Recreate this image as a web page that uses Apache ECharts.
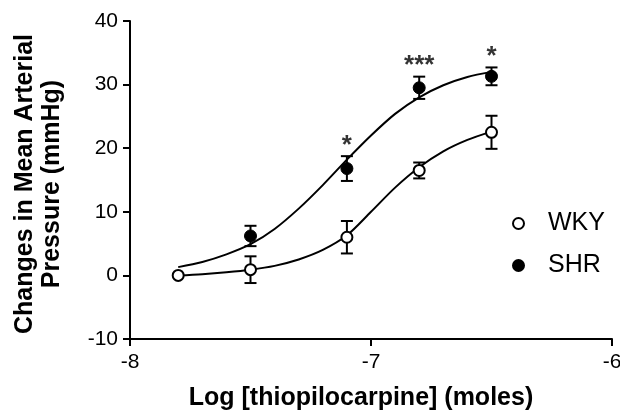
<!DOCTYPE html>
<html>
<head>
<meta charset="utf-8">
<script src="https://cdn.jsdelivr.net/npm/echarts@6/dist/echarts.min.js"></script>
<style>html,body{margin:0;padding:0;background:#fff}#c{width:620px;height:411px}</style>
</head>
<body>
<div id="c"></div>
<script>
// Data
var wkyX = [-7.8, -7.5, -7.1, -6.8, -6.5];
var wkyMean = [0.0, 0.9, 6.0, 16.5, 22.5];
var wkyErr = [0, 2.1, 2.55, 1.25, 2.6];

var shrX = [-7.5, -7.1, -6.8, -6.5];
var shrMean = [6.2, 16.8, 29.5, 31.3];
var shrErr = [1.6, 1.95, 1.75, 1.4];
var shrSig = ['', '*', '***', '*'];

// fitted curves
var wkyFitX = [-7.8, -7.7, -7.6, -7.5, -7.4, -7.3, -7.2, -7.1, -7.0, -6.9, -6.8, -6.7, -6.6, -6.5];
var wkyFitY = [0.0, 0.2, 0.5, 0.9, 1.5, 2.5, 4.0, 6.3, 10.0, 13.8, 17.0, 19.5, 21.3, 22.6];
var shrFitX = [-7.8, -7.7, -7.6, -7.5, -7.4, -7.3, -7.2, -7.1, -7.0, -6.9, -6.8, -6.7, -6.6, -6.5];
var shrFitY = [1.3, 2.1, 3.3, 4.9, 7.3, 10.5, 14.2, 18.2, 22.0, 25.4, 28.0, 29.9, 31.2, 32.0];

var xTicks = [-8, -7, -6];
var yTicks = [-10, 0, 10, 20, 30, 40];

var FONT = '"Liberation Sans", Arial, Helvetica, sans-serif';

function zip(a, b) { return a.map(function (v, i) { return [v, b[i]]; }); }
function errData(x, m, e) {
  var out = [];
  for (var i = 0; i < x.length; i++) { if (e[i] > 0) out.push([x[i], m[i] - e[i], m[i] + e[i]]); }
  return out;
}
function renderErr(params, api) {
  var x = api.value(0);
  var lo = api.coord([x, api.value(1)]);
  var hi = api.coord([x, api.value(2)]);
  var w = 6;
  var st = { stroke: '#000', lineWidth: 2 };
  return {
    type: 'group',
    children: [
      { type: 'line', shape: { x1: lo[0], y1: lo[1], x2: hi[0], y2: hi[1] }, style: st },
      { type: 'line', shape: { x1: hi[0] - w, y1: hi[1], x2: hi[0] + w, y2: hi[1] }, style: st },
      { type: 'line', shape: { x1: lo[0] - w, y1: lo[1], x2: lo[0] + w, y2: lo[1] }, style: st }
    ]
  };
}

var sigData = [];
for (var i = 0; i < shrX.length; i++) {
  if (shrSig[i]) sigData.push({ value: [shrX[i], shrMean[i] + shrErr[i]], name: shrSig[i] });
}

var chart = echarts.init(document.getElementById('c'), null, { renderer: 'canvas' });
chart.setOption({
  animation: false,
  backgroundColor: '#fff',
  textStyle: { fontFamily: FONT, color: '#000' },
  grid: { left: 130, right: 8, top: 21, bottom: 72, containLabel: false, outerBoundsMode: 'none' },
  legend: {
    orient: 'vertical',
    left: 507, top: 206,
    itemWidth: 11, itemHeight: 11, itemGap: 17,
    data: ['WKY', 'SHR'],
    textStyle: { fontFamily: FONT, fontSize: 25, color: '#000', padding: [0, 0, 0, 19] }
  },
  xAxis: {
    type: 'value', min: xTicks[0], max: xTicks[xTicks.length - 1], interval: 1,
    name: 'Log [thiopilocarpine] (moles)', nameLocation: 'middle', nameGap: 47,
    nameTextStyle: { fontFamily: FONT, fontSize: 25, fontWeight: 'bold', color: '#000', padding: [0, 20, 0, 0] },
    axisLine: { show: true, onZero: false, lineStyle: { color: '#000', width: 2 } },
    axisTick: { show: true, length: 7, lineStyle: { color: '#000', width: 2 } },
    axisLabel: { fontFamily: FONT, fontSize: 21, color: '#000', margin: 13 },
    splitLine: { show: false }
  },
  yAxis: {
    type: 'value', min: yTicks[0], max: yTicks[yTicks.length - 1], interval: 10,
    name: 'Changes in Mean Arterial\nPressure (mmHg)', nameLocation: 'middle', nameGap: 64, nameRotate: 90,
    nameTextStyle: { fontFamily: FONT, fontSize: 25, fontWeight: 'bold', color: '#000', lineHeight: 27, padding: [0, 8, 0, 0] },
    axisLine: { show: true, onZero: false, lineStyle: { color: '#000', width: 2 } },
    axisTick: { show: true, length: 7, lineStyle: { color: '#000', width: 2 } },
    axisLabel: { fontFamily: FONT, fontSize: 21, color: '#000', margin: 12 },
    splitLine: { show: false }
  },
  series: [
    { name: 'WKY fit', type: 'line', data: zip(wkyFitX, wkyFitY), smooth: 0.3, symbol: 'none',
      lineStyle: { color: '#000', width: 2 }, z: 1, silent: true },
    { name: 'SHR fit', type: 'line', data: zip(shrFitX, shrFitY), smooth: 0.3, symbol: 'none',
      lineStyle: { color: '#000', width: 2 }, z: 1, silent: true },
    { name: 'WKY err', type: 'custom', renderItem: renderErr, data: errData(wkyX, wkyMean, wkyErr), z: 2, silent: true },
    { name: 'SHR err', type: 'custom', renderItem: renderErr, data: errData(shrX, shrMean, shrErr), z: 2, silent: true },
    { name: 'WKY', type: 'scatter', data: zip(wkyX, wkyMean), symbol: 'circle', symbolSize: 11,
      itemStyle: { color: '#fff', borderColor: '#000', borderWidth: 2, opacity: 1 }, emphasis: { disabled: true }, z: 3 },
    { name: 'SHR', type: 'scatter', data: zip(shrX, shrMean), symbol: 'circle', symbolSize: 12,
      itemStyle: { color: '#000', borderColor: '#000', borderWidth: 1, opacity: 1 }, emphasis: { disabled: true }, z: 3 },
    { name: 'sig', type: 'scatter', data: sigData, symbolSize: 1,
      itemStyle: { color: 'rgba(0,0,0,0)' }, z: 4, silent: true,
      label: { show: true, position: 'top', distance: 0, offset: [0, 3], formatter: '{b}',
        fontFamily: FONT, fontSize: 26, fontWeight: 'bold', color: '#000' } }
  ]
});
</script>
</body>
</html>
